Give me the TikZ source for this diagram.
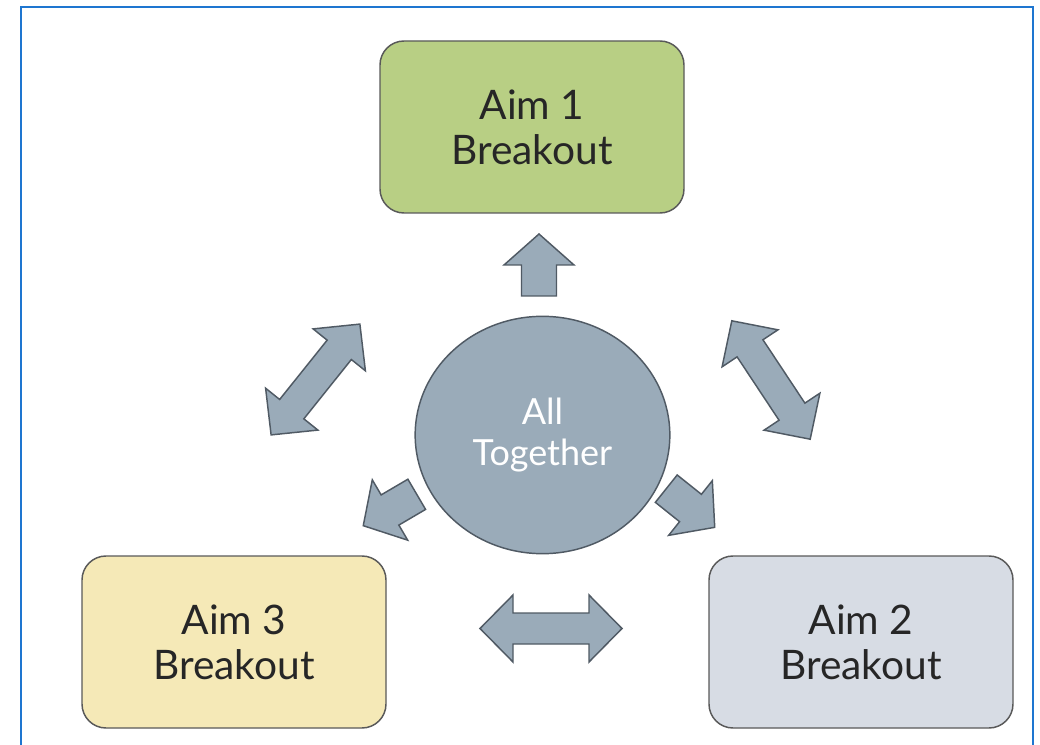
\documentclass[tikz,border=0pt]{standalone}
\usepackage{fontspec}
\setmainfont{Lato}
\usetikzlibrary{shapes.geometric}

\definecolor{frameblue}{RGB}{30,118,208}
\definecolor{aimgreen}{RGB}{184,207,132}
\definecolor{aimyellow}{RGB}{245,233,183}
\definecolor{aimgrey}{RGB}{215,220,228}
\definecolor{hubfill}{RGB}{154,171,185}
\definecolor{hubline}{RGB}{80,90,100}

\tikzset{
	aimbox/.style={draw=black!65, line width=1.1pt, rounded corners=18pt, minimum width=228pt, minimum height=129pt, align=center, font=\fontsize{30.5}{34}\selectfont, text=black!85},
	hubcircle/.style={ellipse, draw=hubline, line width=1.1pt, fill=hubfill, minimum width=191pt, minimum height=178pt, align=center, font=\fontsize{27}{31}\selectfont, text=white},
	fatarrow/.style={draw=hubline, line width=1.1pt, fill=hubfill, line join=miter}
}

% one-headed block arrow: centre, angle
\def\onearrow(#1)(#2){\draw[fatarrow, shift={(#1)}, rotate=#2] (-31,-17.5) -- (0,-17.5) -- (0,-35) -- (31,0) -- (0,35) -- (0,17.5) -- (-31,17.5) -- cycle;}
% two-headed block arrow: centre, angle
\def\twoarrow(#1)(#2){\draw[fatarrow, shift={(#1)}, rotate=#2] (-71,0) -- (-38,-33.5) -- (-38,-15.5) -- (38,-15.5) -- (38,-33.5) -- (71,0) -- (38,33.5) -- (38,15.5) -- (-38,15.5) -- (-38,33.5) -- cycle;}

\begin{document}
\begin{tikzpicture}[x=0.75pt, y=-0.75pt]
	\useasboundingbox (0,0) rectangle (1040,745);
	\draw[frameblue, line width=1.5pt] (21,745) -- (21,7) -- (1033,7) -- (1033,745);
	
	\node[aimbox, fill=aimgreen] (aim1) at (532,127) {Aim 1\\Breakout};
	\node[aimbox, fill=aimyellow] (aim3) at (234,642) {Aim 3\\Breakout};
	\node[aimbox, fill=aimgrey] (aim2) at (861,642) {Aim 2\\Breakout};
	
	\node[hubcircle] (hub) at (542.5,435) {All\\Together};
	
	\onearrow(539,265)(90)
	\onearrow(690.5,508)(-38.6)
	\onearrow(390,510)(-149.6)
	
	\twoarrow(315.5,379.5)(51.3)
	\twoarrow(771,380)(-56.5)
	\twoarrow(551,628.5)(0)
\end{tikzpicture}
\end{document}
